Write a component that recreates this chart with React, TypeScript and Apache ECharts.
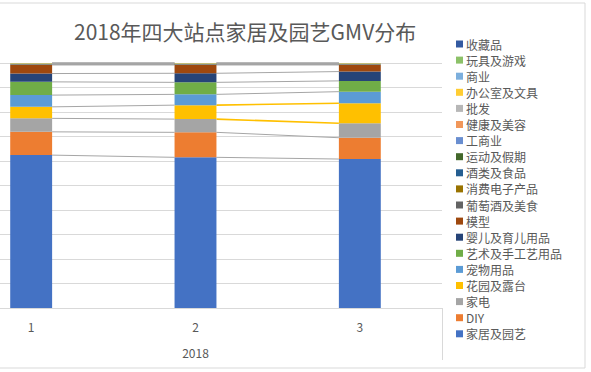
import React, { useEffect, useRef } from "react";
import * as echarts from "echarts";

const categories = ["1", "2", "3"];
const groupLabels = ["2018"];
const titleText = "2018年四大站点家居及园艺GMV分布";

// stacked bottom -> top, values in % of each bar
const seriesNames = [
  "家居及园艺", "DIY", "家电", "花园及露台", "宠物用品", "艺术及手工艺用品",
  "婴儿及育儿用品", "模型", "葡萄酒及美食", "消费电子产品", "酒类及食品",
  "运动及假期", "工商业", "健康及美容", "批发", "办公室及文具", "商业",
  "玩具及游戏", "收藏品",
];
const homeGarden = [62.4, 61.5, 60.8];
const diy = [9.5, 10.2, 8.7];
const appliances = [5.5, 5.4, 5.9];
const gardenPatio = [4.7, 5.7, 8.2];
const petSupplies = [4.8, 4.4, 4.7];
const artsCrafts = [5.4, 4.9, 4.4];
const babyProducts = [3.4, 3.7, 3.8];
const models = [3.5, 3.4, 2.7];
const wineFood = [0.2, 0.2, 0.2];
const electronics = [0.1, 0.1, 0.1];
const groceries = [0.1, 0.1, 0.1];
const sports = [0.05, 0.05, 0.05];
const industrial = [0.05, 0.05, 0.05];
const health = [0.05, 0.05, 0.05];
const wholesale = [0.05, 0.05, 0.05];
const office = [0.05, 0.05, 0.05];
const business = [0.05, 0.05, 0.05];
const toys = [0.05, 0.05, 0.05];
const collectibles = [0.05, 0.05, 0.05];

const seriesValues = [
  homeGarden, diy, appliances, gardenPatio, petSupplies, artsCrafts,
  babyProducts, models, wineFood, electronics, groceries, sports,
  industrial, health, wholesale, office, business, toys, collectibles,
];

const colors = [
  "#4472C4", "#ED7D31", "#A5A5A5", "#FFC000", "#5B9BD5", "#70AD47",
  "#264478", "#9E480E", "#636363", "#997300", "#255E91", "#43682B",
  "#698ED0", "#F1975A", "#B7B7B7", "#FFCD33", "#7CAFDD", "#8CC168", "#335AA1",
];

const BAR_RATIO = 0.255;
const SHIFT = 60; // chart canvas extends past the left edge of the view
const FONT = "'Noto Sans CJK SC', 'Noto Sans', sans-serif";

export default function App() {
  const ref = useRef<HTMLDivElement>(null);
  useEffect(() => {
    if (!ref.current) return;
    const chart = echarts.init(ref.current, undefined, { renderer: "svg" });

    const cum: number[][] = [];
    const run = categories.map(() => 0);
    seriesValues.forEach((vals) => {
      const tops = vals.map((v, i) => (run[i] += v));
      cum.push(tops.slice());
    });
    const highlightIdx = seriesNames.indexOf("花园及露台");
    const lineData: number[][] = [];
    cum.forEach((tops, s) => {
      for (let i = 0; i < categories.length - 1; i++) {
        const hl = i === 1 && (s === highlightIdx || s === highlightIdx - 1) ? 1 : 0;
        lineData.push([i, tops[i], tops[i + 1], hl]);
      }
    });

    const barSeries = seriesNames.map((name, s) => ({
      name,
      type: "bar",
      stack: "total",
      barWidth: BAR_RATIO * 100 + "%",
      itemStyle: { color: colors[s] },
      data: seriesValues[s],
      z: 3,
    }));

    chart.setOption({
      animation: false,
      backgroundColor: "#fff",
      title: {
        text: titleText,
        left: 69 + SHIFT,
        top: 15,
        textStyle: { fontSize: 21, fontWeight: "normal", color: "#595959", fontFamily: FONT },
      },
      legend: {
        orient: "vertical",
        left: 451 + SHIFT,
        top: 33,
        itemWidth: 7,
        itemHeight: 7,
        itemGap: 4.1,
        icon: "rect",
        data: seriesNames.slice().reverse(),
        textStyle: { fontSize: 12, lineHeight: 12, color: "#595959", fontFamily: FONT, padding: [0, 0, 0, -2] },
      },
      grid: { left: SHIFT - 51, right: 149, top: 63, bottom: 64 },
      xAxis: [
        {
          type: "category",
          data: categories,
          position: "bottom",
          axisLine: { lineStyle: { color: "#D9D9D9" } },
          axisTick: { show: false },
          axisLabel: { color: "#595959", fontSize: 12, margin: 12, fontFamily: FONT },
        },
        {
          type: "category",
          data: groupLabels,
          position: "bottom",
          offset: 0,
          axisLine: { show: false },
          axisTick: { show: true, length: 52, lineStyle: { color: "#D9D9D9" } },
          axisLabel: { color: "#595959", fontSize: 12, margin: 38, fontFamily: FONT },
        },
      ],
      yAxis: {
        type: "value",
        min: 0,
        max: 100,
        interval: 10,
        axisLabel: { show: false },
        axisLine: { show: false },
        axisTick: { show: false },
        splitLine: { lineStyle: { color: "#D9D9D9" } },
      },
      graphic: [
        {
          type: "rect",
          shape: { x: SHIFT - 5, y: 3, width: 590, height: 365 },
          style: { fill: "none", stroke: "#D9D9D9", lineWidth: 1 },
          silent: true,
        },
      ],
      series: [
        ...barSeries,
        {
          type: "custom",
          name: "",
          xAxisIndex: 0,
          encode: { x: 0, y: [1, 2] },
          data: lineData,
          z: 2,
          renderItem: (params: any, api: any) => {
            const i = api.value(0);
            const a = api.coord([i, api.value(1)]);
            const b = api.coord([i + 1, api.value(2)]);
            const half = (api.size([1, 0])[0] * BAR_RATIO) / 2;
            const hl = api.value(3) === 1;
            return {
              type: "line",
              shape: { x1: a[0] + half, y1: a[1], x2: b[0] - half, y2: b[1] },
              style: {
                stroke: hl ? "#FFC000" : "#A6A6A6",
                lineWidth: hl ? 1.6 : 1,
              },
            };
          },
        },
      ],
    });
    return () => chart.dispose();
  }, []);
  return (
    <div
      style={{
        position: "fixed",
        left: 0,
        top: 0,
        width: 591,
        height: 372,
        overflow: "hidden",
        background: "#fff",
      }}
    >
      <div
        ref={ref}
        style={{ position: "absolute", left: -SHIFT, top: 0, width: 591 + SHIFT, height: 372 }}
      />
    </div>
  );
}
